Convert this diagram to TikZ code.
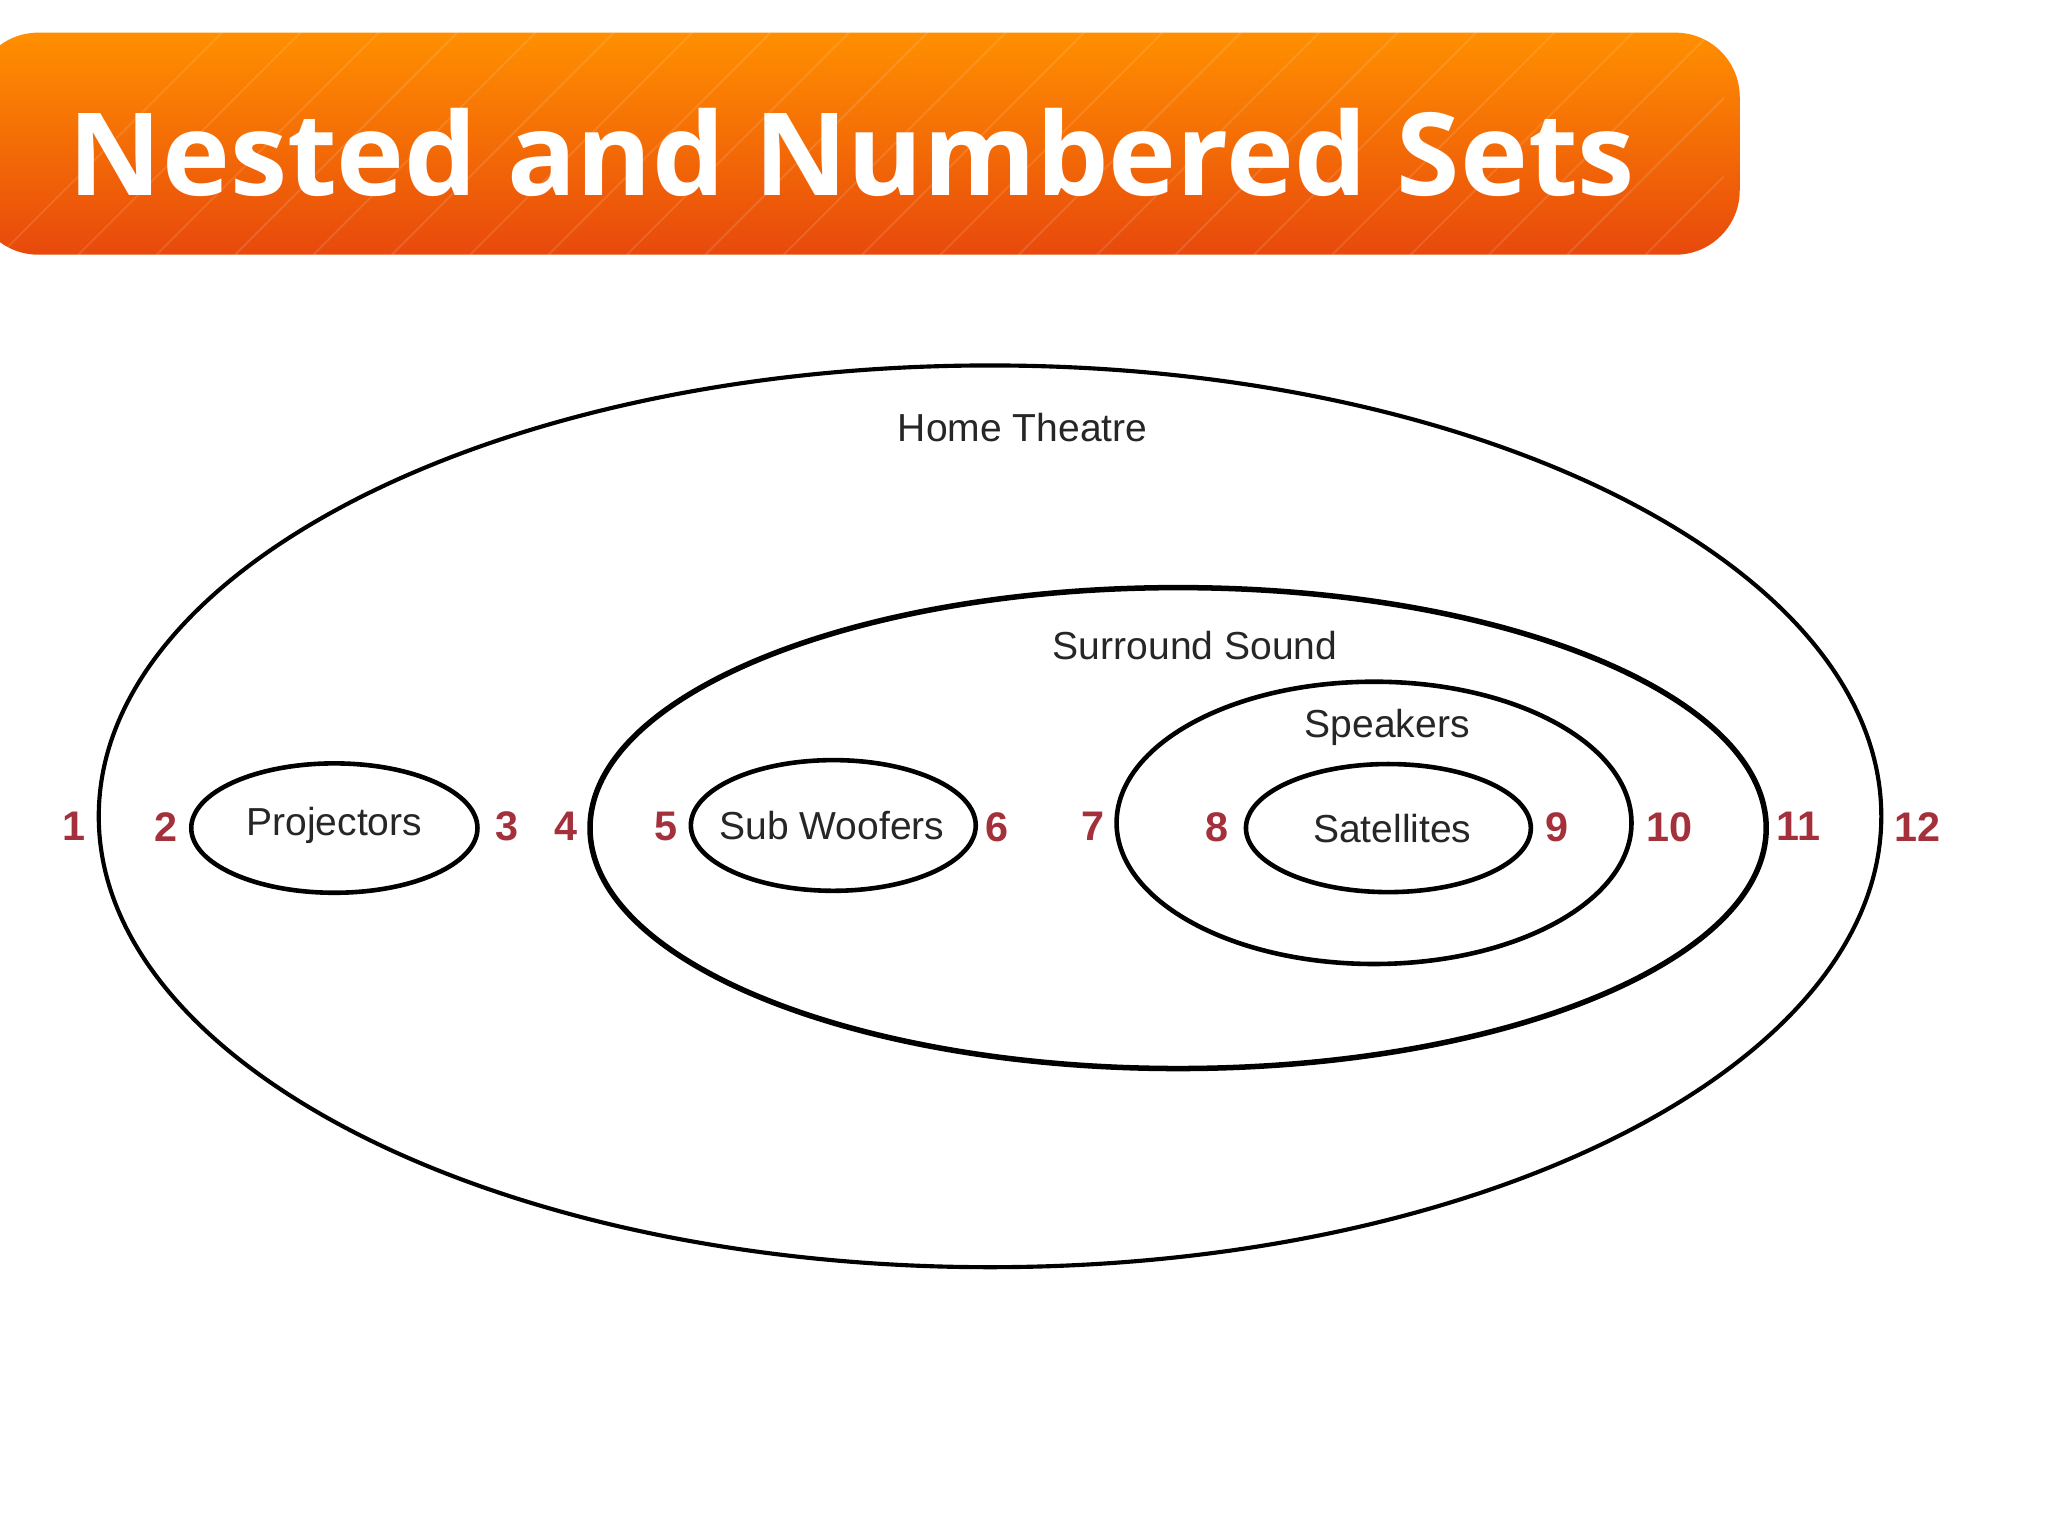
\documentclass[tikz,border=0pt]{standalone}
\usepackage{fontspec}
\setmainfont{Liberation Sans}
\newfontfamily\titlefont{Open Sans}
\usetikzlibrary{shapes.geometric}
\definecolor{numred}{HTML}{A3303A}
\definecolor{orTop}{HTML}{FF8F00}
\definecolor{orBot}{HTML}{E8490C}
\tikzset{
  setell/.style={ellipse, draw=black, line width=1pt, inner sep=0pt},
  lbl/.style={font=\fontsize{8.5pt}{10pt}\selectfont, text=black!85},
  num/.style={font=\fontsize{9pt}{10pt}\selectfont\bfseries, text=numred}
}
\begin{document}
\begin{tikzpicture}[x=0.01cm,y=-0.01cm]
\useasboundingbox (0,0) rectangle (1568,1176);
\fill[white] (0,0) rectangle (1568,1176);
% header
\shade[top color=orTop, bottom color=orBot, rounded corners=14]
  (-20,25) rectangle (1332,195);
\begin{scope}
\clip (-20,25) rectangle (1320,195);
\foreach \i in {0,60,...,1500}{
  \draw[white, opacity=0.12, line width=0.4pt] (\i,195) -- (\i+170,25);
}
\end{scope}
\node[anchor=base west, text=white, inner sep=0pt,
  font=\titlefont\fontsize{25pt}{28pt}\selectfont\bfseries] (title) at (52,150) {Nested and Numbered Sets};
% ellipses
\node[setell, line width=0.9pt, minimum width=13.64cm, minimum height=6.90cm] (home) at (758,625) {};
\node[setell, line width=1.2pt, minimum width=9.00cm, minimum height=3.68cm] (surr) at (902,634) {};
\node[setell, minimum width=3.94cm, minimum height=2.16cm] (spk) at (1052,630) {};
\node[setell, minimum width=2.18cm, minimum height=0.98cm] (sat) at (1063,634) {};
\node[setell, minimum width=2.19cm, minimum height=0.99cm] (proj) at (256,634) {};
\node[setell, minimum width=2.18cm, minimum height=1.00cm] (sub) at (638,632) {};
% labels
\node[lbl] (lhome) at (783,327) {Home Theatre};
\node[lbl] (lsurr) at (915,494) {Surround Sound};
\node[lbl] (lspk) at (1062,557) {Speakers};
\node[lbl] (lsat) at (1066,634) {Satellites};
\node[lbl] (lproj) at (256,632) {Projectors};
\node[lbl] (lsub) at (637,632) {Sub Woofers};
% numbers
\foreach \n/\x in {1/57,2/127,3/388,4/433,5/510,6/763,7/837,8/932,9/1192,10/1278,11/1377,12/1468}{
  \node[num] (n\n) at (\x,633) {\n};
}
\end{tikzpicture}
\end{document}
